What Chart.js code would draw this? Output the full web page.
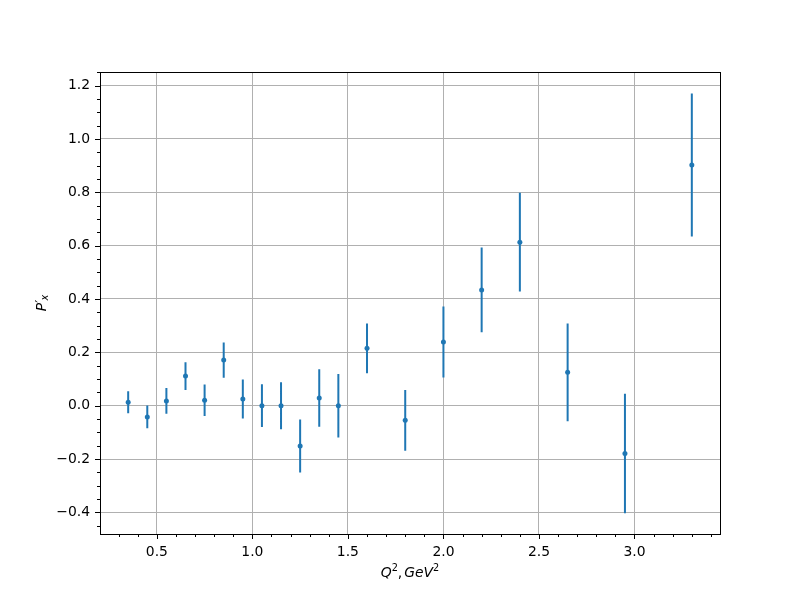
<!DOCTYPE html>
<html>
<head>
<meta charset="utf-8">
<title>P'x vs Q2</title>
<script src="https://cdn.jsdelivr.net/npm/chart.js@4/dist/chart.umd.min.js"></script>
<style>
  html, body { margin: 0; padding: 0; background: #fff; }
  #grafico { display: block; }
</style>
</head>
<body>
<canvas id="grafico" width="800" height="600"></canvas>
<script>
// valores
const q2 = [0.35, 0.45, 0.55, 0.65, 0.75, 0.85, 0.95, 1.05, 1.15, 1.25, 1.35, 1.45, 1.6, 1.8, 2.0, 2.2, 2.4, 2.65, 2.95, 3.3];
const px = [0.013, -0.042, 0.018, 0.111, 0.020, 0.171, 0.025, 0.000, 0.000, -0.151, 0.029, 0.000, 0.215, -0.055, 0.239, 0.434, 0.613, 0.125, -0.179, 0.902];
const erro = [0.041, 0.043, 0.048, 0.052, 0.059, 0.066, 0.073, 0.080, 0.088, 0.099, 0.108, 0.119, 0.093, 0.114, 0.133, 0.159, 0.185, 0.183, 0.224, 0.268];

// ticks principais e secundários
const xTicks = [0.5, 1.0, 1.5, 2.0, 2.5, 3.0];
const yTicks = [-0.4, -0.2, 0.0, 0.2, 0.4, 0.6, 0.8, 1.0, 1.2];
const xMinorStep = 0.1;
const yMinorStep = 0.05;

const azul = '#1f77b4';
const fonte = 'DejaVu Sans';
const tam = 13.9;

// pontos centrais
const pontos = q2.map((x, i) => ({ x: x, y: px[i] }));

// barras de erro: segmentos separados por null
const barras = [];
q2.forEach((x, i) => {
  barras.push({ x: x, y: px[i] - erro[i] });
  barras.push({ x: x, y: px[i] + erro[i] });
  barras.push({ x: x, y: null });
});

function ehMaior(v, lista) {
  return lista.some(t => Math.abs(t - v) < 1e-6);
}

function montaTicks(scale, passo) {
  const lista = [];
  const ini = Math.ceil(scale.min / passo - 1e-9);
  const fim = Math.floor(scale.max / passo + 1e-9);
  for (let k = ini; k <= fim; k++) {
    lista.push({ value: Math.round(k * passo * 1000) / 1000 });
  }
  scale.ticks = lista;
}

function formata(v) {
  return v.toFixed(1).replace('-', '\u2212');
}

// texto estilo mathtext: pedaços com tamanho/deslocamento próprios
function desenhaRotulo(ctx, partes, cx, cy, rot) {
  ctx.save();
  ctx.translate(cx, cy);
  ctx.rotate(rot);
  ctx.fillStyle = '#000';
  ctx.textBaseline = 'alphabetic';
  let total = 0;
  partes.forEach(p => {
    ctx.font = (p.it ? 'italic ' : '') + p.s + 'px "' + fonte + '"';
    p.w = ctx.measureText(p.t).width;
    total += p.w + (p.gap || 0);
  });
  let x = -total / 2;
  partes.forEach(p => {
    ctx.font = (p.it ? 'italic ' : '') + p.s + 'px "' + fonte + '"';
    ctx.fillText(p.t, x, 5 + (p.dy || 0));
    x += p.w + (p.gap || 0);
  });
  ctx.restore();
}

const rotuloX = [
  { t: 'Q', s: tam, it: true },
  { t: '2', s: tam * 0.7, dy: -6 },
  { t: ',', s: tam, gap: 2 },
  { t: 'GeV', s: tam, it: true },
  { t: '2', s: tam * 0.7, dy: -6 }
];
const rotuloY = [
  { t: 'P', s: tam, it: true },
  { t: '\u2032', s: tam, dy: -1, gap: -1 },
  { t: 'x', s: tam * 0.7, it: true, dy: 2 }
];

// desenha moldura, marcas de tick e rótulos dos eixos
const moldura = {
  id: 'moldura',
  afterDraw(chart) {
    const { ctx, chartArea: a, scales } = chart;
    ctx.save();
    ctx.strokeStyle = '#000';
    ctx.lineWidth = 1;
    scales.x.ticks.forEach(t => {
      const p = Math.round(scales.x.getPixelForValue(t.value)) + 0.5;
      const len = ehMaior(t.value, xTicks) ? 5 : 3;
      ctx.beginPath();
      ctx.moveTo(p, a.bottom);
      ctx.lineTo(p, a.bottom + len);
      ctx.stroke();
    });
    scales.y.ticks.forEach(t => {
      const p = Math.round(scales.y.getPixelForValue(t.value)) + 0.5;
      const len = ehMaior(t.value, yTicks) ? 5 : 3;
      ctx.beginPath();
      ctx.moveTo(a.left, p);
      ctx.lineTo(a.left - len, p);
      ctx.stroke();
    });
    ctx.strokeRect(Math.round(a.left) + 0.5, Math.round(a.top) + 0.5,
      Math.round(a.right - a.left), Math.round(a.bottom - a.top));
    ctx.restore();

    desenhaRotulo(ctx, rotuloX, (a.left + a.right) / 2, 572, 0);
    desenhaRotulo(ctx, rotuloY, 41, (a.top + a.bottom) / 2, -Math.PI / 2);
  }
};

new Chart(document.getElementById('grafico'), {
  type: 'scatter',
  data: {
    datasets: [
      {
        label: 'pontos',
        data: pontos,
        backgroundColor: azul,
        borderColor: azul,
        pointRadius: 2.5,
        pointBorderWidth: 0,
        showLine: false
      },
      {
        label: 'erro',
        data: barras,
        borderColor: azul,
        borderWidth: 2,
        pointRadius: 0,
        showLine: true,
        spanGaps: false
      }
    ]
  },
  options: {
    responsive: false,
    animation: false,
    layout: { padding: { left: 0, top: 72, right: 80, bottom: 0 } },
    plugins: {
      legend: { display: false },
      tooltip: { enabled: false }
    },
    scales: {
      x: {
        type: 'linear',
        min: 0.2025,
        max: 3.4475,
        afterFit: s => { s.height = 66; },
        afterBuildTicks: s => montaTicks(s, xMinorStep),
        border: { display: false },
        grid: {
          drawTicks: false,
          lineWidth: 1,
          color: c => ehMaior(c.tick.value, xTicks) ? '#b0b0b0' : 'rgba(0,0,0,0)'
        },
        ticks: {
          autoSkip: false,
          maxRotation: 0,
          padding: 10,
          color: '#000',
          font: { family: fonte, size: tam },
          callback: v => ehMaior(v, xTicks) ? formata(v) : ''
        }
      },
      y: {
        type: 'linear',
        min: -0.481,
        max: 1.251,
        afterFit: s => { s.width = 100; },
        afterBuildTicks: s => montaTicks(s, yMinorStep),
        border: { display: false },
        grid: {
          drawTicks: false,
          lineWidth: 1,
          color: c => ehMaior(c.tick.value, yTicks) ? '#b0b0b0' : 'rgba(0,0,0,0)'
        },
        ticks: {
          autoSkip: false,
          padding: 10,
          color: '#000',
          font: { family: fonte, size: tam },
          callback: v => ehMaior(v, yTicks) ? formata(v) : ''
        }
      }
    }
  },
  plugins: [moldura]
});
</script>
</body>
</html>
